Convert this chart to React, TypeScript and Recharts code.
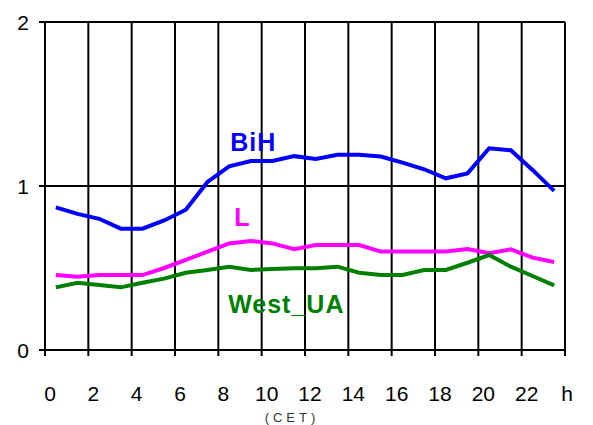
import { CartesianGrid, Line, LineChart, XAxis, YAxis } from 'recharts';

const hours = [
  0.5, 1.5, 2.5, 3.5, 4.5, 5.5, 6.5, 7.5, 8.5, 9.5, 10.5, 11.5,
  12.5, 13.5, 14.5, 15.5, 16.5, 17.5, 18.5, 19.5, 20.5, 21.5, 22.5, 23.5,
];
const bih = [
  0.87, 0.83, 0.8, 0.74, 0.74, 0.79, 0.855, 1.025, 1.12, 1.152, 1.152, 1.182,
  1.165, 1.19, 1.19, 1.18, 1.143, 1.102, 1.047, 1.077, 1.23, 1.218, 1.098, 0.97,
];
const loadL = [
  0.457, 0.447, 0.457, 0.457, 0.457, 0.5, 0.549, 0.6, 0.65, 0.665, 0.65, 0.614,
  0.64, 0.64, 0.64, 0.6, 0.6, 0.6, 0.6, 0.616, 0.59, 0.614, 0.563, 0.537,
];
const westUA = [
  0.382, 0.41, 0.396, 0.382, 0.41, 0.435, 0.471, 0.488, 0.508, 0.488, 0.494, 0.498,
  0.498, 0.508, 0.471, 0.457, 0.457, 0.488, 0.488, 0.532, 0.579, 0.508, 0.451, 0.394,
];
const xTicks = [0, 2, 4, 6, 8, 10, 12, 14, 16, 18, 20, 22, 24];
const yTicks = [0, 1, 2];

const data = hours.map((h, i) => ({
  h,
  bih: bih[i],
  l: loadL[i],
  west: westUA[i],
}));

const FONT = '"Liberation Sans", Arial, sans-serif';

function XTick({ x, y, payload }: any) {
  const last = payload.value === 24;
  return (
    <text
      x={x + (last ? 2 : 5)}
      y={y + 43}
      textAnchor="middle"
      fontSize={21}
      fontFamily={FONT}
      fill="#000"
    >
      {last ? 'h' : payload.value}
    </text>
  );
}

function YTick({ x, y, payload }: any) {
  return (
    <text x={x - 8} y={y + 8} textAnchor="end" fontSize={21} fontFamily={FONT} fill="#000">
      {payload.value}
    </text>
  );
}

// unit caption under the hour ticks, a bit left of the plot centre
function CetLabel({ viewBox }: any) {
  const cx = viewBox.x + viewBox.width / 2 - 13;
  return (
    <text
      x={cx}
      y={viewBox.y + viewBox.height + 12}
      textAnchor="middle"
      fontSize={13}
      letterSpacing={4}
      fontFamily={FONT}
      fill="#333"
    >
      (CET)
    </text>
  );
}

function seriesLabel(text: string, color: string, dx: number, dy: number) {
  return (props: any) => {
    if (props.index !== 8) return <g />;
    return (
      <text
        x={props.x + dx}
        y={props.y + dy}
        fontSize={25}
        fontWeight="bold"
        letterSpacing={1}
        fontFamily={FONT}
        fill={color}
      >
        {text}
      </text>
    );
  };
}

export default function App() {
  return (
    <div style={{ position: 'absolute', left: 0, top: 0, width: 593, height: 425, background: '#fff' }}>
      <LineChart
        width={593}
        height={425}
        data={data}
        margin={{ top: 22, right: 28, left: 0, bottom: 15 }}
      >
        <CartesianGrid stroke="#000" strokeWidth={2} />
        <XAxis
          dataKey="h"
          type="number"
          domain={[0, 24]}
          ticks={xTicks}
          interval={0}
          height={60}
          tickSize={6}
          tick={<XTick />}
          stroke="#000"
          strokeWidth={2}
          label={<CetLabel />}
        />
        <YAxis
          domain={[0, 2]}
          ticks={yTicks}
          width={45}
          tickSize={6}
          tick={<YTick />}
          stroke="#000"
          strokeWidth={2}
        />
        <Line
          dataKey="bih"
          stroke="#0000ff"
          strokeWidth={4}
          dot={false}
          isAnimationActive={false}
          label={seriesLabel('BiH', '#0000ff', 1, -15)}
        />
        <Line
          dataKey="l"
          stroke="#ff00ff"
          strokeWidth={4}
          dot={false}
          isAnimationActive={false}
          label={seriesLabel('L', '#ff00ff', 5, -17)}
        />
        <Line
          dataKey="west"
          stroke="#008000"
          strokeWidth={4}
          dot={false}
          isAnimationActive={false}
          label={seriesLabel('West_UA', '#008000', -1, 46)}
        />
      </LineChart>
    </div>
  );
}
